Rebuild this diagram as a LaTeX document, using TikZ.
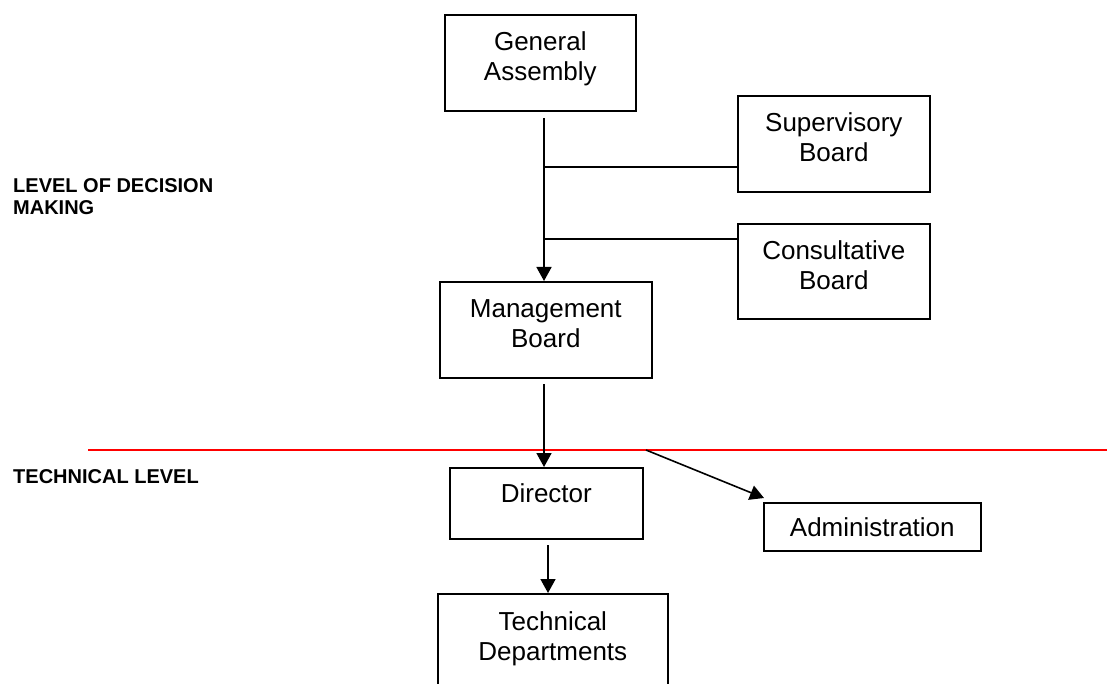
\documentclass[tikz,border=0pt]{standalone}
\usepackage{fontspec}
\setmainfont{Liberation Sans}
\usetikzlibrary{arrows.meta}
\tikzset{
  orgbox/.style={draw, line width=1.6pt, inner sep=0pt, align=center, anchor=north west,
    font=\fontsize{26}{30}\selectfont},
  twoline/.style={text height=45pt, text depth=9pt},
  lvl/.style={inner sep=0pt, anchor=base west, align=left, font=\fontsize{20}{22}\selectfont\bfseries},
  conn/.style={line width=1.6pt},
  arr/.style={line width=1.6pt, -{Triangle[length=14pt,width=15pt]}},
}
\begin{document}
\begin{tikzpicture}[x=1pt,y=-1pt]
\useasboundingbox (0,0) rectangle (1107,684);
% boxes
\node[orgbox, twoline, minimum width=191pt, minimum height=96pt] (ga) at (444,14) {General\\Assembly};
\node[orgbox, twoline, minimum width=192pt, minimum height=96pt] (sb) at (737,95) {Supervisory\\Board};
\node[orgbox, twoline, minimum width=192pt, minimum height=95pt] (cb) at (737,223) {Consultative\\Board};
\node[orgbox, twoline, minimum width=212pt, minimum height=96pt] (mb) at (439,281) {Management\\Board};
\node[orgbox, text height=10pt, text depth=11pt, minimum width=193pt, minimum height=71pt] (dir) at (449,467) {Director};
\node[orgbox, minimum width=217pt, minimum height=48pt] (adm) at (763,502) {Administration};
\node[orgbox, text height=45pt, text depth=31pt, minimum width=230pt, minimum height=120pt] (td) at (437,593) {Technical\\Departments};
% labels
\node[lvl] (l1) at (13,215) {LEVEL OF DECISION\\MAKING};
\node[lvl] (l2) at (13,483) {TECHNICAL LEVEL};
% red line
\coordinate (rl) at (88,450);
\coordinate (rr) at (1107,450);
\draw[red, line width=1.6pt] (rl) -- (rr);
% connectors
\coordinate (gaout) at (544,118);
\coordinate (j1) at (544,167);
\coordinate (j2) at (544,239);
\draw[arr] (gaout) -- (gaout |- mb.north);
\draw[conn] (j1) -- (j1 -| sb.west);
\draw[conn] (j2) -- (j2 -| cb.west);
\coordinate (mbout) at (544,384);
\draw[arr] (mbout) -- (mbout |- dir.north);
\coordinate (dout) at (548,545);
\draw[arr] (dout) -- (dout |- td.north);
\coordinate (split) at (646,450);
\coordinate (admtip) at (764,498);
\draw[arr] (split) -- (admtip);
\end{tikzpicture}
\end{document}
